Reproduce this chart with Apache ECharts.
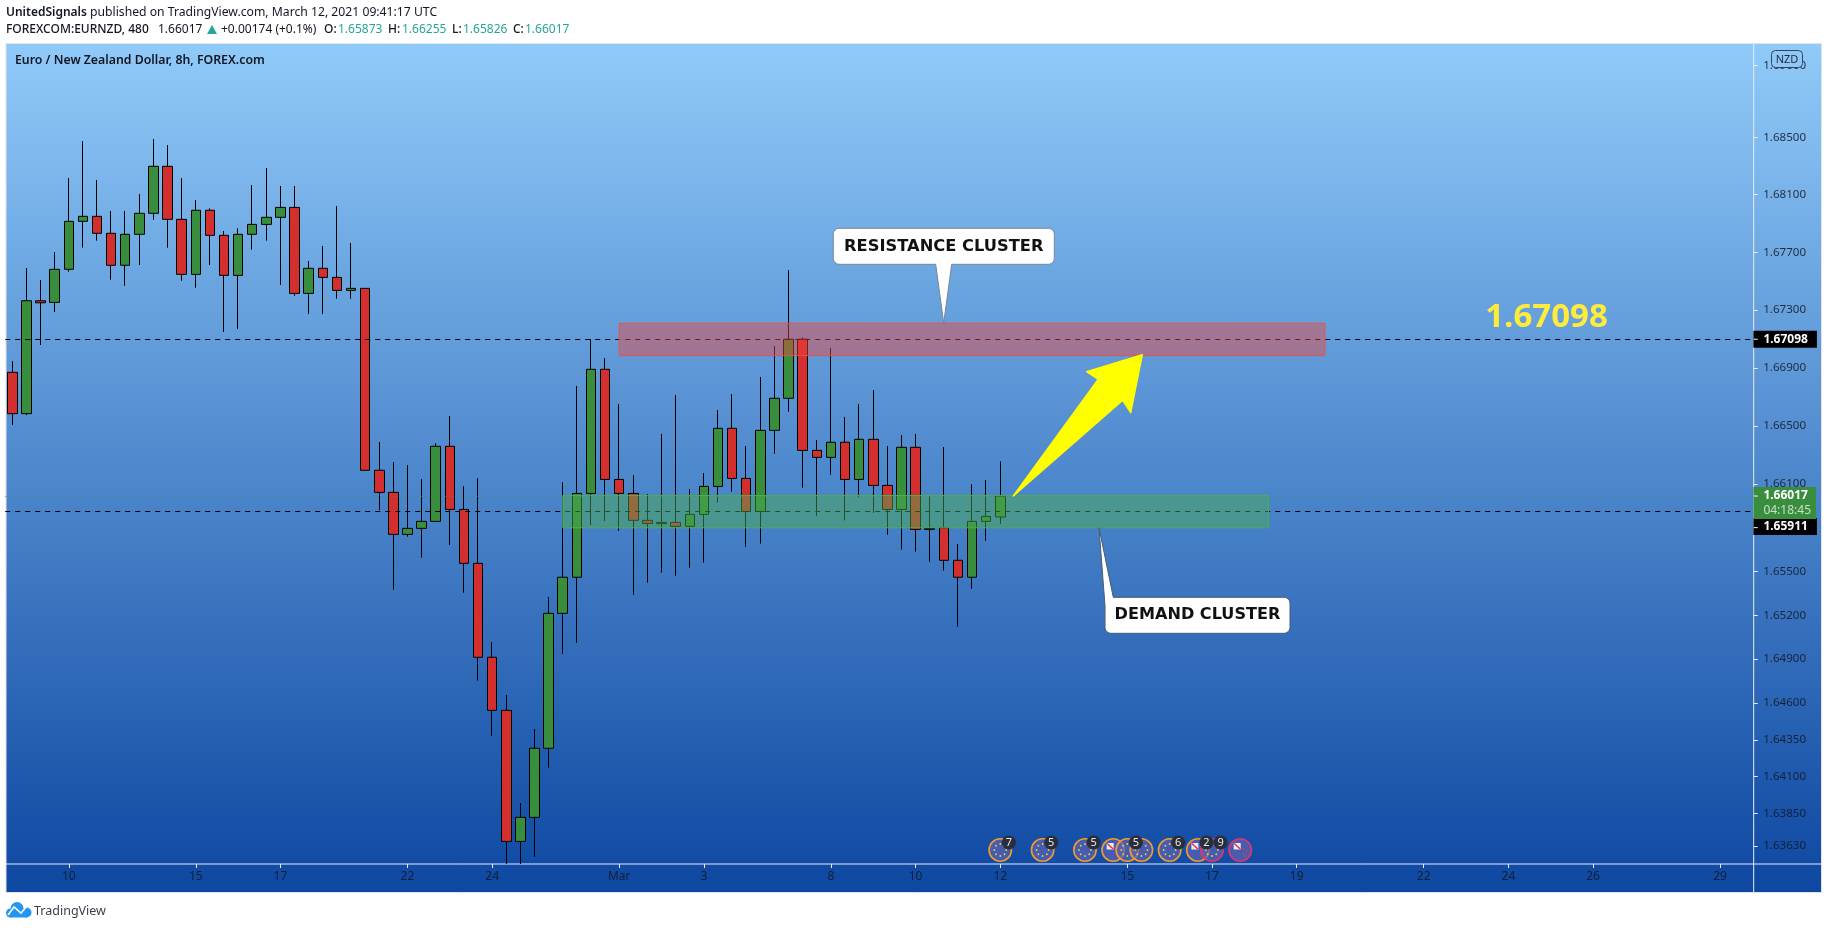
<!DOCTYPE html>
<html><head><meta charset="utf-8"><title>EURNZD</title>
<style>html,body{margin:0;padding:0;background:#fff}#c{width:1828px;height:929px}</style>
<script src="https://cdn.jsdelivr.net/npm/echarts@6/dist/echarts.min.js"></script></head>
<body><div id="c"></div>
<script>
// ---------- data ----------
const opens=[1.66869,1.66584,1.67364,1.67353,1.67582,1.67915,1.67950,1.67832,1.67610,1.67825,
1.67971,1.68298,1.67929,1.67547,1.67992,1.67818,1.67540,1.67825,1.67894,1.67943,
1.68012,1.67415,1.67589,1.67526,1.67436,1.67450,1.66194,1.66042,1.65754,1.65795,
1.65843,1.66359,1.65925,1.65555,1.64913,1.64551,1.63661,1.63824,1.64293,1.65213,
1.65460,1.66035,1.66890,1.66131,1.66035,1.65850,1.65827,1.65836,1.65809,1.65891,
1.66083,1.66483,1.66138,1.65911,1.66469,1.66690,1.67098,1.66331,1.66283,1.66387,
1.66131,1.66407,1.66090,1.65925,1.66352,1.65788,1.65799,1.65576,1.65460,1.65843,1.65873];
const highs=[1.66947,1.67591,1.67508,1.67702,1.68216,1.68474,1.68203,1.67987,1.67987,1.68104,
1.68488,1.68446,1.68216,1.68063,1.68005,1.67848,1.67867,1.68168,1.68286,1.68161,
1.68161,1.67640,1.67744,1.68021,1.67765,1.67450,1.66389,1.66251,1.66230,1.66133,
1.66380,1.66568,1.66085,1.66140,1.65017,1.64656,1.63921,1.64424,1.65325,1.66112,
1.66775,1.67098,1.66968,1.66650,1.66161,1.66030,1.66444,1.66712,1.66065,1.66175,
1.66609,1.66719,1.66361,1.66837,1.67051,1.67577,1.67111,1.66402,1.67037,1.66561,
1.66650,1.66747,1.66361,1.66437,1.66444,1.66017,1.66354,1.65688,1.66098,1.66127,1.66255];
const lows=[1.66506,1.66574,1.67058,1.67286,1.67565,1.67732,1.67781,1.67510,1.67468,1.67612,
1.67926,1.67732,1.67503,1.67454,1.67612,1.67148,1.67169,1.67718,1.67781,1.67473,
1.67398,1.67272,1.67272,1.67378,1.67378,1.66194,1.65921,1.65375,1.65738,1.65594,
1.65843,1.65681,1.65354,1.64754,1.64378,1.63508,1.63508,1.63557,1.64161,1.64937,
1.65012,1.65818,1.65845,1.65777,1.65340,1.65423,1.65491,1.65470,1.65525,1.65560,
1.65971,1.66046,1.65669,1.65690,1.66308,1.66597,1.66074,1.65881,1.66163,1.65850,
1.66008,1.65902,1.65751,1.65649,1.65635,1.65566,1.65505,1.65122,1.65381,1.65710,1.65826];
const closes=[1.66584,1.67364,1.67350,1.67582,1.67915,1.67950,1.67832,1.67610,1.67825,1.67971,
1.68298,1.67929,1.67547,1.67992,1.67818,1.67540,1.67825,1.67894,1.67943,1.68012,
1.67415,1.67589,1.67526,1.67436,1.67450,1.66194,1.66042,1.65754,1.65795,1.65843,
1.66359,1.65925,1.65555,1.64913,1.64551,1.63661,1.63824,1.64293,1.65213,1.65460,
1.66035,1.66890,1.66131,1.66035,1.65850,1.65829,1.65836,1.65809,1.65891,1.66083,
1.66483,1.66138,1.65911,1.66469,1.66690,1.67098,1.66331,1.66283,1.66387,1.66131,
1.66407,1.66090,1.65925,1.66352,1.65788,1.65795,1.65576,1.65460,1.65843,1.65877,1.66017];
const barCount=124;
const dateTickIndex=[4,13,19,28,34,43,49,58,64,70,79,85,91,100,106,112,121];
const dateTickLabel=['10','15','17','22','24','Mar','3','8','10','12','15','17','19','22','24','26','29'];
const priceTicks=[1.69,1.685,1.681,1.677,1.673,1.669,1.665,1.661,1.655,1.652,1.649,1.646,1.6435,1.641,1.6385,1.6363];
const priceLabelTicks=[1.67098,1.66017,1.658];
const resistanceLevel=1.67098, supportLevel=1.65911, lastPrice=1.66017;
const zoneFrom=[43,39], zoneTo=[93,89], zoneTop=[1.67208,1.66021], zoneBottom=[1.66984,1.65799];
const eventIndex=[70,73,76,78,79,80,82,84,85,87];
const eventFlag=['EU','EU','EU','NZ','EU','EU','EU','NZ','EU','NZ'];
const eventBadge=['7','5','5','','5','','6','2','9',''];
const eventHigh=[0,0,0,0,0,0,0,0,1,1];

// ---------- layout ----------
const B=14.114, gridLeft=5.24, gridTop=44, gridBottom=864, axisX=1753.7;
const gridWidth=B*barCount, yMin=1.63508, yMax=1.69152;
const FONT='"Noto Sans"';
const DARK='#131722', TEAL='#26a69a';
const zoneFill=['rgba(239,70,60,0.45)','rgba(76,175,80,0.47)'];
const zoneLine=['#e5534b','#4caf50'];
const eventRowY=850;

const categories=Array.from({length:barCount},(_,i)=>String(i));
const candles=opens.map((o,i)=>[o,closes[i],lows[i],highs[i]]);
const tickLabelOf={}; dateTickIndex.forEach((v,i)=>tickLabelOf[v]=dateTickLabel[i]);

function txt(x,y,text,o){o=o||{};return {type:'text',z:o.z||60,silent:true,x,y,style:{text,fill:o.fill||DARK,
  font:(o.weight||'normal')+' '+(o.size||12)+'px '+(o.family||FONT),align:o.align||'left',verticalAlign:'middle'}};}
function arc(cx,cy,r,a0,a1){const p=[];for(let k=0;k<=6;k++){const a=(a0+(a1-a0)*k/6)*Math.PI/180;p.push([cx+r*Math.cos(a),cy+r*Math.sin(a)]);}return p;}
function boxArcs(x0,y0,x1,y1,r){return{tl:arc(x0+r,y0+r,r,180,270),tr:arc(x1-r,y0+r,r,270,360),br:arc(x1-r,y1-r,r,0,90),bl:arc(x0+r,y1-r,r,90,180)};}
const a1=boxArcs(833.3,228.3,1054.3,264.3,6);
const resistanceCallout=[...a1.tl,...a1.tr,...a1.br,[951.7,264.3],[943.7,323],[935.7,264.3],...a1.bl];
const a2=boxArcs(1105,597.3,1290,633.3,6);
const demandCallout=[[1113.3,597.3],...a2.tr,...a2.br,...a2.bl,[1105,606],[1099,527.7]];
const arrowShape=[[1013.3,496],[1098.3,379.3],[1086.7,371.7],[1142.3,354.7],[1130.7,412.7],[1122.7,400.3]];

const graphics=[
 {type:'rect',z:-5,silent:true,shape:{x:6,y:43.5,width:1815.5,height:849},
  style:{fill:new echarts.graphic.LinearGradient(0,0,0,1,[{offset:0,color:'#90caf9'},{offset:1,color:'#0d47a1'}]),stroke:'#e0e3eb',lineWidth:1}},
 // header
 txt(6,12.5,'UnitedSignals',{weight:'600',size:12}),
 txt(90,12.5,'published on TradingView.com, March 12, 2021 09:41:17 UTC',{size:12.2}),
 txt(6,29.5,'FOREXCOM:EURNZD, 480',{weight:'500',size:12}),
 txt(158,29.5,'1.66017',{size:12}),
 {type:'polygon',z:60,silent:true,shape:{points:[[212,25],[217,34],[207,34]]},style:{fill:TEAL}},
 txt(221,29.5,'+0.00174 (+0.1%)',{size:12}),
 txt(324,29.5,'O:',{weight:'500'}),txt(338,29.5,'1.65873',{fill:TEAL}),
 txt(388,29.5,'H:',{weight:'500'}),txt(402,29.5,'1.66255',{fill:TEAL}),
 txt(452,29.5,'L:',{weight:'500'}),txt(463,29.5,'1.65826',{fill:TEAL}),
 txt(513,29.5,'C:',{weight:'500'}),txt(525,29.5,'1.66017',{fill:TEAL}),
 txt(15,60,'Euro / New Zealand Dollar, 8h, FOREX.com',{weight:'600',size:12.3}),
 // axis extensions
 {type:'line',z:1,silent:true,shape:{x1:6,y1:864,x2:1821,y2:864},style:{stroke:'#e8eef6',lineWidth:1}},
 {type:'line',z:1,silent:true,shape:{x1:axisX,y1:44,x2:axisX,y2:892},style:{stroke:'#e8eef6',lineWidth:1}},
 // NZD badge
 {type:'rect',z:40,silent:true,shape:{x:1771.5,y:50.5,width:31,height:17,r:4},style:{fill:'#8fc7f8',stroke:'#33445e',lineWidth:1}},
 txt(1787,59.5,'NZD',{size:11,align:'center',fill:'#1f2a3c',z:41}),
 // annotations
 {type:'polygon',z:45,silent:true,shape:{points:resistanceCallout},style:{fill:'#fff',stroke:'#77879b',lineWidth:1}},
 txt(943.8,246.5,'RESISTANCE CLUSTER',{weight:'bold',size:16.3,align:'center',fill:'#111',z:46,family:'"DejaVu Sans"'}),
 {type:'polygon',z:45,silent:true,shape:{points:demandCallout},style:{fill:'#fff',stroke:'#4b5a70',lineWidth:1}},
 txt(1197.5,615,'DEMAND CLUSTER',{weight:'bold',size:16.1,align:'center',fill:'#111',z:46,family:'"DejaVu Sans"'}),
 {type:'polygon',z:45,silent:true,shape:{points:arrowShape},style:{fill:'#ffff00',stroke:'#ffff00',lineWidth:1.5,lineJoin:'round'}},
 txt(1546.5,318,'1.67098',{weight:'bold',size:33,align:'center',fill:'#ffeb3b',family:'"Open Sans"',z:46}),
 // footer logo
 {type:'circle',z:60,silent:true,shape:{cx:10.5,cy:913,r:4.5},style:{fill:'#2196f3'}},
 {type:'circle',z:60,silent:true,shape:{cx:17,cy:908.5,r:6.5},style:{fill:'#2196f3'}},
 {type:'circle',z:60,silent:true,shape:{cx:26.5,cy:912.5,r:5},style:{fill:'#2196f3'}},
 {type:'rect',z:60,silent:true,shape:{x:10,y:911,width:17,height:6.5},style:{fill:'#2196f3'}},
 {type:'polyline',z:61,silent:true,shape:{points:[[8,915],[14,907],[21,913],[27,906]]},style:{stroke:'#fff',lineWidth:1.6,fill:null}},
 txt(34,911,'TradingView',{size:12.5,fill:'#3a3f4a'}),
];

const chart=echarts.init(document.getElementById('c'),null,{renderer:'canvas'});
chart.setOption({
 animation:false,
 backgroundColor:'#fff',
 graphic:{elements:graphics},
 grid:{left:gridLeft,top:gridTop,width:gridWidth,height:gridBottom-gridTop,containLabel:false},
 xAxis:{type:'category',data:categories,boundaryGap:true,
  axisLine:{show:false},
  axisTick:{show:true,alignWithLabel:true,length:4,interval:(i)=>i in tickLabelOf,lineStyle:{color:'#e8eef6',width:1}},
  axisLabel:{show:true,interval:(i)=>i in tickLabelOf,hideOverlap:false,margin:7,fontFamily:FONT,fontSize:12,color:'rgba(19,23,34,0.85)',formatter:(v,i)=>tickLabelOf[i]||''},
  splitLine:{show:false}},
 yAxis:{type:'log',logBase:Math.E,min:yMin,max:yMax,position:'right',offset:-(gridLeft+gridWidth-axisX),
  axisLine:{show:false},
  axisTick:{show:true,length:4,customValues:priceTicks,lineStyle:{color:'#e8eef6',width:1}},
  axisLabel:{show:true,margin:9.5,customValues:priceTicks,fontFamily:FONT,fontSize:11.6,color:'rgba(19,23,34,0.85)',formatter:(v)=>Number(v).toFixed(5),hideOverlap:false},
  splitLine:{show:false},minorTick:{show:false}},
 series:[
 {name:'EURNZD',type:'candlestick',data:candles,barWidth:10,z:3,silent:true,clip:true,
  itemStyle:{color:'#388e3c',color0:'#d32f2f',borderColor:'#000',borderColor0:'#000',borderWidth:1},
  markLine:{silent:true,symbol:'none',animation:false,precision:5,
   data:[
    {yAxis:resistanceLevel,lineStyle:{color:'#000',type:[5,5],width:1},
     label:{show:true,position:'end',distance:-2,formatter:'1.67098',backgroundColor:'#000',color:'#fff',fontFamily:FONT,fontWeight:'bold',fontSize:12,padding:[2,9,2,10],lineHeight:13}},
    {yAxis:supportLevel,lineStyle:{color:'#000',type:[5,5],width:1},
     label:{show:true,position:'end',distance:-2,offset:[0,15],formatter:'1.65911',backgroundColor:'#000',color:'#fff',fontFamily:FONT,fontWeight:'bold',fontSize:12,padding:[2,9,2,10],lineHeight:13}},
    {yAxis:lastPrice,lineStyle:{color:'rgba(56,142,60,0.8)',type:[1,3],width:1},
     label:{show:true,position:'end',distance:-2,offset:[0,7],formatter:'{a|1.66017}\n{b|04:18:45}',backgroundColor:'#388e3c',padding:[1,5,1,10],
       rich:{a:{color:'#fff',fontFamily:FONT,fontWeight:'bold',fontSize:12,lineHeight:15},b:{color:'rgba(255,255,255,0.72)',fontFamily:FONT,fontSize:12,lineHeight:15}}}}
   ]}},
 {name:'zones',type:'custom',z:10,silent:true,clip:false,
  data:zoneFrom.map((f,i)=>[f,zoneTo[i],zoneTop[i],zoneBottom[i]]),
  encode:{x:[0,1],y:[2,3]},
  renderItem:(p,api)=>{const a=api.coord([api.value(0),api.value(2)]),b=api.coord([api.value(1),api.value(3)]);
   return{type:'rect',shape:{x:a[0],y:a[1],width:b[0]-a[0],height:b[1]-a[1]},style:{fill:zoneFill[p.dataIndex],stroke:zoneLine[p.dataIndex],lineWidth:1}};}},
 {name:'priceLabelTicks',type:'custom',z:12,silent:true,clip:false,
  data:priceLabelTicks.map(v=>[0,v]),encode:{x:0,y:1},
  renderItem:(p,api)=>{const y=api.coord([0,api.value(1)])[1];
   return{type:'line',shape:{x1:axisX,y1:y,x2:axisX+4,y2:y},style:{stroke:'#fff',lineWidth:1}};}},
 {name:'events',type:'custom',z:20,silent:true,clip:false,
  data:eventIndex.map((v,i)=>[v,i]),encode:{x:0},
  renderItem:(p,api)=>{const i=p.dataIndex,x=api.coord([api.value(0),yMin])[0],y=eventRowY,ch=[];
   const ring=eventHigh[i]?'#e2336f':'#f29a2e';
   ch.push({type:'circle',shape:{cx:x,cy:y,r:11.2},style:{fill:'rgba(92,98,178,0.72)',stroke:ring,lineWidth:1.6}});
   if(eventFlag[i]==='EU'){for(let k=0;k<8;k++){const a=k*Math.PI/4;ch.push({type:'circle',shape:{cx:x+6*Math.cos(a),cy:y+6*Math.sin(a),r:0.9},style:{fill:'#e8d24a'}});}}
   else{ch.push({type:'rect',shape:{x:x-6.5,y:y-7,width:7,height:6.5},style:{fill:'#f4e6ea'}});
    ch.push({type:'line',shape:{x1:x-6,y1:y-6.5,x2:x,y2:y-1},style:{stroke:'#d9304f',lineWidth:1.4}});
    [[3,-1],[6,1],[3,4],[5,6]].forEach(d=>ch.push({type:'circle',shape:{cx:x+d[0],cy:y+d[1],r:0.9},style:{fill:'#c8405f'}}));}
   return{type:'group',children:ch};}},
 {name:'eventBadges',type:'custom',z:21,silent:true,clip:false,
  data:eventIndex.map((v,i)=>[v,i]),encode:{x:0},
  renderItem:(p,api)=>{const i=p.dataIndex;if(!eventBadge[i])return null;
   const x=api.coord([api.value(0),yMin])[0]+8.6,y=eventRowY-7.5;
   return{type:'group',children:[
    {type:'circle',shape:{cx:x,cy:y,r:7},style:{fill:'#2a2e39'}},
    {type:'text',style:{x,y,text:eventBadge[i],fill:'#e6e8ee',font:'11px '+FONT,align:'center',verticalAlign:'middle'}}]};}}
 ]
});
</script></body></html>
